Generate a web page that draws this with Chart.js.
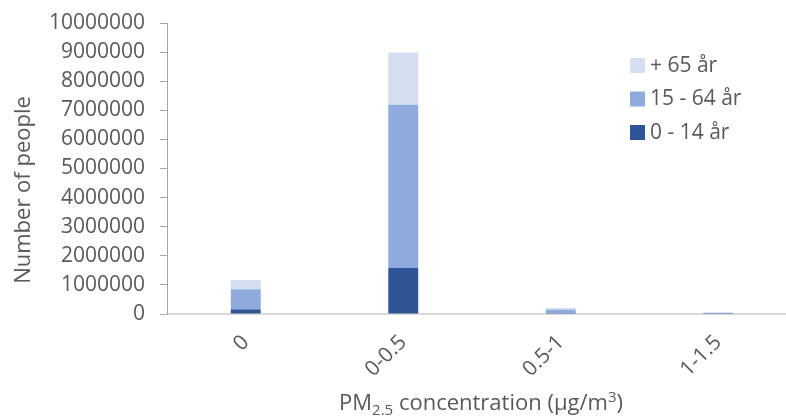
<!DOCTYPE html>
<html>
<head>
<meta charset="utf-8">
<script src="https://cdn.jsdelivr.net/npm/chart.js@4/dist/chart.umd.min.js"></script>
<style>
  html, body { margin: 0; padding: 0; background: #ffffff; overflow: hidden; }
  #wrap { width: 786px; height: 418px; overflow: hidden; }
  canvas { display: block; }
</style>
</head>
<body>
<div id="wrap"><canvas id="chart" width="798" height="418"></canvas></div>
<script>
// PM2.5 exposure bins and population per age group
const categories = ['0', '0-0.5', '0.5-1', '1-1.5'];
const age0to14 = [160000, 1580000, 30000, 10000];
const age15to64 = [690000, 5610000, 120000, 30000];
const age65plus = [320000, 1800000, 60000, 15000];
const seriesNames = ['0 - 14 år', '15 - 64 år', '+ 65 år'];
const yTicks = [0, 1000000, 2000000, 3000000, 4000000, 5000000, 6000000, 7000000, 8000000, 9000000, 10000000];

const FONT = "'Open Sans', sans-serif";
const TEXT = '#595959';
const colors = ['#2F5597', '#8FAADC', '#D6DEF2'];

// Legend drawn inside the plot area, top series first
const legendPlugin = {
  id: 'insideLegend',
  afterDraw(chart) {
    const ctx = chart.ctx;
    ctx.save();
    ctx.font = '21px ' + FONT;
    ctx.textBaseline = 'middle';
    ctx.textAlign = 'left';
    const order = [2, 1, 0];
    order.forEach((di, i) => {
      const ds = chart.data.datasets[di];
      const y = 58 + i * 33.5;
      ctx.fillStyle = ds.backgroundColor;
      ctx.fillRect(630, y, 15, 15);
      ctx.fillStyle = TEXT;
      ctx.fillText(ds.label, 650, y + 8);
    });
    ctx.restore();
  }
};

// Axis titles, with sub/superscripts for the x title
const titlePlugin = {
  id: 'axisTitles',
  afterDraw(chart) {
    const ctx = chart.ctx;
    ctx.save();
    ctx.fillStyle = TEXT;
    ctx.textBaseline = 'alphabetic';
    // y title
    ctx.save();
    ctx.font = '22px ' + FONT;
    ctx.translate(30, 190);
    ctx.rotate(-Math.PI / 2);
    ctx.textAlign = 'center';
    ctx.fillText('Number of people', 0, 0);
    ctx.restore();
    // x title
    const parts = [
      { t: 'PM', size: 22, dy: 0 },
      { t: '2.5', size: 15, dy: 5 },
      { t: ' concentration (\u00b5g/m', size: 22, dy: 0 },
      { t: '3', size: 15, dy: -8 },
      { t: ')', size: 22, dy: 0 }
    ];
    let total = 0;
    parts.forEach(p => { ctx.font = p.size + 'px ' + FONT; p.w = ctx.measureText(p.t).width; total += p.w; });
    let x = 481 - total / 2;
    const base = 410;
    ctx.textAlign = 'left';
    parts.forEach(p => {
      ctx.font = p.size + 'px ' + FONT;
      ctx.fillText(p.t, x, base + p.dy);
      x += p.w;
    });
    ctx.restore();
  }
};

const ctx = document.getElementById('chart').getContext('2d');
new Chart(ctx, {
  type: 'bar',
  data: {
    labels: categories,
    datasets: [
      { label: seriesNames[0], data: age0to14, backgroundColor: colors[0] },
      { label: seriesNames[1], data: age15to64, backgroundColor: colors[1] },
      { label: seriesNames[2], data: age65plus, backgroundColor: colors[2] }
    ]
  },
  options: {
    responsive: false,
    animation: false,
    layout: { padding: { left: 0, right: 1, top: 23, bottom: 0 } },
    datasets: { bar: { categoryPercentage: 1, barPercentage: 0.19, borderWidth: 0 } },
    plugins: { legend: { display: false }, tooltip: { enabled: false } },
    scales: {
      x: {
        stacked: true,
        grid: { display: false },
        border: { display: true, color: '#D9D9D9', width: 2 },
        ticks: {
          color: TEXT,
          font: { family: FONT, size: 21 },
          minRotation: 45,
          maxRotation: 45,
          padding: 8
        },
        afterFit(scale) { scale.height = 104; }
      },
      y: {
        stacked: true,
        min: 0,
        max: 10000000,
        afterBuildTicks(scale) { scale.ticks = yTicks.map(v => ({ value: v })); },
        grid: { display: true, drawOnChartArea: false, drawTicks: true, tickLength: 7, color: '#A6A6A6' },
        border: { display: true, color: '#A6A6A6', width: 1 },
        ticks: {
          color: TEXT,
          font: { family: FONT, size: 21, lineHeight: 1 },
          padding: 15,
          callback: (v) => String(v)
        },
        afterFit(scale) { scale.width = 167; scale.paddingTop = 0; }
      }
    }
  },
  plugins: [legendPlugin, titlePlugin]
});
</script>
</body>
</html>
